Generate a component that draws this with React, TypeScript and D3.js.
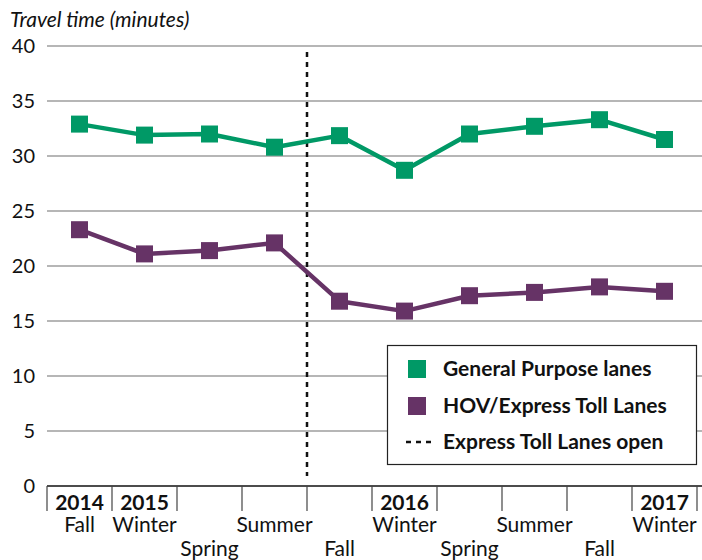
import React from "react";
import * as d3 from "d3";

const years = ["2014", "2015", "", "", "", "2016", "", "", "", "2017"];
const seasons = ["Fall", "Winter", "Spring", "Summer", "Fall", "Winter", "Spring", "Summer", "Fall", "Winter"];
const seasonRow = [0, 0, 1, 0, 1, 0, 1, 0, 1, 0];
const generalPurpose = [32.9, 31.9, 32.0, 30.8, 31.85, 28.7, 32.0, 32.7, 33.3, 31.5];
const hovExpress = [23.3, 21.1, 21.4, 22.1, 16.8, 15.9, 17.3, 17.6, 18.1, 17.7];
const yTicks = [0, 5, 10, 15, 20, 25, 30, 35, 40];
const tollOpenIndex = 4; // boundary before this category

const GREEN = "#009966";
const PURPLE = "#663366";
const FONT = "Lato, 'Open Sans', sans-serif";

export default function App() {
  const W = 702, H = 560;
  const left = 47, right = 697, top = 46, bottom = 486;
  const idx = d3.range(seasons.length).map(String);
  const x = d3.scaleBand<string>().domain(idx).range([left, right]).paddingInner(0).paddingOuter(0);
  const y = d3.scaleLinear().domain([0, 40]).range([bottom, top]);
  const cx = (i: number) => (x(String(i)) as number) + x.bandwidth() / 2;
  const line = d3.line<number>().x((_, i) => cx(i)).y((d) => y(d));
  const ms = 17;
  const dashX = x(String(tollOpenIndex)) as number;
  const tickXs = d3.range(seasons.length + 1).map((i) => left + i * x.bandwidth());

  const series = [
    { data: generalPurpose, color: GREEN },
    { data: hovExpress, color: PURPLE },
  ];

  return (
    <svg width={W} height={H} style={{ position: "absolute", left: 0, top: 0, display: "block" }} fontFamily={FONT}>
      <rect width={W} height={H} fill="#fff" />
      <text x={10} y={27} fontSize={21} fontStyle="italic" fill="#111">Travel time (minutes)</text>
      {yTicks.map((t) => (
        <g key={t}>
          {t > 0 && <line x1={left} x2={W} y1={y(t)} y2={y(t)} stroke="#6e6e6e" strokeWidth={1.2} />}
          <text x={35} y={y(t)} dy="0.35em" textAnchor="end" fontSize={20} fill="#111">{t}</text>
        </g>
      ))}
      <line x1={left} x2={W} y1={bottom} y2={bottom} stroke="#111" strokeWidth={1.5} />
      {tickXs.map((tx, i) => (
        <line key={i} x1={tx} x2={tx} y1={bottom} y2={511} stroke="#444" strokeWidth={1.2} />
      ))}
      {seasons.map((s, i) => (
        <g key={i}>
          {years[i] && (
            <text x={cx(i)} y={510} textAnchor="middle" fontSize={21} fontWeight="bold" fill="#111">{years[i]}</text>
          )}
          <text x={cx(i)} y={seasonRow[i] === 0 ? 532 : 556} textAnchor="middle" fontSize={21} fill="#111">{s}</text>
        </g>
      ))}
      <line x1={dashX} x2={dashX} y1={52} y2={476} stroke="#111" strokeWidth={2.5} strokeDasharray="5,5" />
      {series.map((s, k) => (
        <g key={k}>
          <path d={line(s.data) as string} fill="none" stroke={s.color} strokeWidth={4.5} strokeLinejoin="round" />
          {s.data.map((v, i) => (
            <rect key={i} x={cx(i) - ms / 2} y={y(v) - ms / 2} width={ms} height={ms} fill={s.color} />
          ))}
        </g>
      ))}
      <g>
        <rect x={387.5} y={345.5} width={309} height={119} fill="#fff" stroke="#222" strokeWidth={1.2} />
        <rect x={408} y={360} width={18} height={18} fill={GREEN} />
        <text x={443} y={369} dy="0.35em" fontSize={21} fontWeight="bold" fill="#111">General Purpose lanes</text>
        <rect x={408} y={397} width={18} height={18} fill={PURPLE} />
        <text x={443} y={406} dy="0.35em" fontSize={21} fontWeight="bold" fill="#111">HOV/Express Toll Lanes</text>
        <line x1={406} x2={432} y1={442} y2={442} stroke="#111" strokeWidth={2.5} strokeDasharray="5,5" />
        <text x={443} y={442} dy="0.35em" fontSize={21} fontWeight="bold" fill="#111">Express Toll Lanes open</text>
      </g>
    </svg>
  );
}
